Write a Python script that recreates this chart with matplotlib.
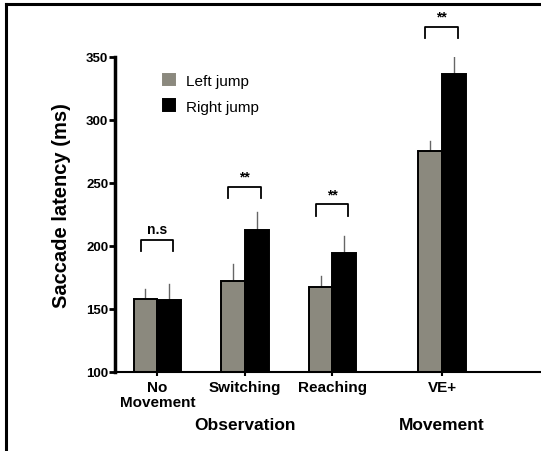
import matplotlib

matplotlib.use("Agg")
import matplotlib.pyplot as plt
import numpy as np
from matplotlib.lines import Line2D

plt.rcParams["font.family"] = ["Liberation Sans", "DejaVu Sans"]

# data
conditions = ["No\nMovement", "Switching", "Reaching", "VE+"]
left_jump = [158, 172, 167, 275]
left_err = [8, 14, 9, 8]
right_jump = [157, 213, 194, 336]
right_err = [13, 14, 14, 16]
sig_labels = ["n.s", "**", "**", "**"]
sig_heights = [205, 247, 233, 374]
groups = ["Observation", "Movement"]

LEFT_COLOR = "#8b897e"
RIGHT_COLOR = "#000000"

positions = np.array([0.0, 1.0, 2.0, 3.25])
group_positions = [1.0, 3.25]
bar_width = 0.27

figure = plt.figure(figsize=(5.41, 4.52), dpi=100)
axis = figure.add_axes([0.213, 0.175, 0.787, 0.697])

axis.bar(positions - bar_width / 2, left_jump, bar_width, color=LEFT_COLOR,
         edgecolor="black", linewidth=1.4, label="Left jump", zorder=2)
axis.bar(positions + bar_width / 2, right_jump, bar_width, color=RIGHT_COLOR,
         edgecolor="black", linewidth=1.4, label="Right jump", zorder=2)

# upper-only error bars, no caps
for pos, val, err in zip(positions - bar_width / 2, left_jump, left_err):
    axis.plot([pos, pos], [val, val + err], color="#666666", linewidth=1.0, zorder=1)
for pos, val, err in zip(positions + bar_width / 2, right_jump, right_err):
    axis.plot([pos, pos], [val, val + err], color="#666666", linewidth=1.0, zorder=1)

# significance brackets
for pos, label, top in zip(positions, sig_labels, sig_heights):
    x0, x1 = pos - 0.19, pos + 0.18
    axis.plot([x0, x0, x1, x1], [top - 9, top, top, top - 9], color="black",
              linewidth=1.3, clip_on=False)
    axis.text((x0 + x1) / 2, top + 2.5, label, ha="center", va="bottom",
              fontsize=10, fontweight="bold", clip_on=False)

axis.set_xlim(-0.48, 4.38)
axis.set_ylim(100, 350)
axis.set_yticks([100, 150, 200, 250, 300, 350])
axis.set_xticks(positions)
axis.set_xticklabels(conditions, fontsize=11, fontweight="bold", linespacing=1.1)
for tick_label in axis.get_yticklabels():
    tick_label.set_fontweight("bold")
axis.tick_params(axis="y", labelsize=9.5, width=2, length=4, pad=1)
axis.tick_params(axis="x", width=1.5, length=3, pad=3)
axis.set_ylabel("Saccade latency (ms)", fontsize=14.5, fontweight="bold")
axis.yaxis.set_label_coords(-0.105, 0.53)

axis.spines["top"].set_visible(False)
axis.spines["right"].set_visible(False)
axis.spines["left"].set_linewidth(2.5)
axis.spines["bottom"].set_linewidth(1.5)

for pos, name in zip(group_positions, groups):
    axis.text(pos, -0.168, name, transform=axis.get_xaxis_transform(),
              ha="center", va="center", fontsize=12.5, fontweight="bold")

legend = axis.legend(loc="upper left", bbox_to_anchor=(0.08, 0.99), frameon=False,
                     fontsize=11, handlelength=0.8, handleheight=0.8, labelspacing=0.75,
                     handletextpad=0.7)
for handle in legend.legend_handles:
    handle.set_edgecolor(handle.get_facecolor())

# outer frame: top and left edges
figure.add_artist(Line2D([0.012, 1.0], [0.99, 0.99], color="black", linewidth=2.2,
                         transform=figure.transFigure))
figure.add_artist(Line2D([0.012, 0.012], [0.0, 0.99], color="black", linewidth=2.2,
                         transform=figure.transFigure))

figure.savefig("out.png", dpi=100)
plt.close(figure)
